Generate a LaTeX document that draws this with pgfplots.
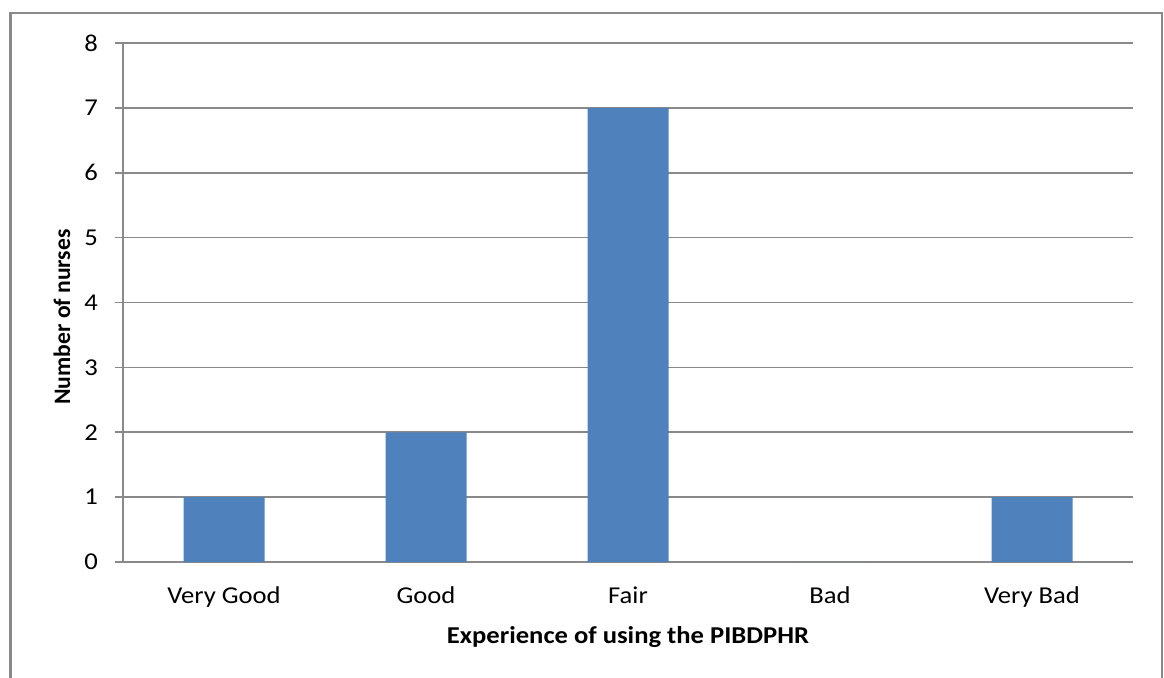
\documentclass[border=0pt]{standalone}
\usepackage{fontspec}
\setmainfont{Carlito}[FakeStretch=1.1]
\newfontfamily\ylabfont{Carlito}
\usepackage{pgfplots}
\pgfplotsset{compat=1.18}
\definecolor{barblue}{HTML}{4F81BD}
\definecolor{gridgray}{HTML}{898989}
\begin{document}
\begin{tikzpicture}[x=0.5pt,y=0.5pt]
\useasboundingbox (0,0) rectangle (1164,677);
\draw[gridgray,line width=1.2pt] (10.5,-20) -- (10.5,664) -- (1162,664) -- (1162,-20);
\begin{axis}[
  at={(61.5pt,57.5pt)}, anchor=south west,
  scale only axis, width=505pt, height=259.5pt,
  xmin=-0.5, xmax=4.5, ymin=0, ymax=8,
  axis x line*=bottom, axis y line*=left,
  axis line style={gridgray,line width=0.8pt,-},
  ytick={0,...,8},
  xtick={0,1,2,3,4},
  xticklabels={Very Good,Good,Fair,Bad,Very Bad},
  minor xtick={-0.5,0.5,1.5,2.5,3.5,4.5},
  tick align=outside,
  major tick length=4pt,
  minor tick length=4pt,
  xtick style={draw=none},
  minor x tick style={gridgray,line width=0.8pt},
  ytick style={gridgray,line width=0.8pt},
  ymajorgrids,
  major grid style={gridgray,line width=0.8pt},
  tick label style={font=\fontsize{12.1}{14}\selectfont, black},
  yticklabel style={xshift=-5pt},
  xticklabel style={yshift=-5pt},
  /pgf/number format/assume math mode=true,
  ybar, bar width=40.5pt,
]
\addplot[fill=barblue,draw=none] coordinates {(0,1) (1,2) (2,7) (3,0) (4,1)};
\end{axis}
\node[font=\fontsize{12.1}{14}\selectfont\bfseries] at (628,40) {Experience of using the PIBDPHR};
\node[font=\ylabfont\fontsize{11.8}{14}\selectfont\bfseries,rotate=90] at (62,360) {Number of nurses};
\end{tikzpicture}
\end{document}
